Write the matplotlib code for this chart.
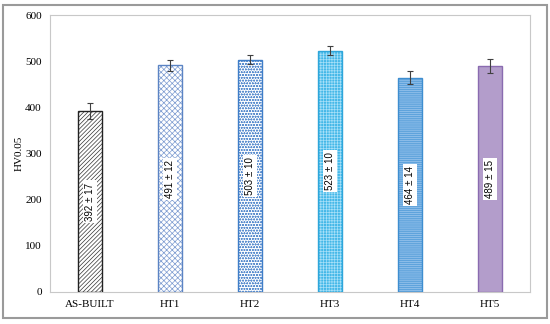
import matplotlib.pyplot as plt
from matplotlib.patches import Rectangle
import numpy as np

# hardness data
samples = ['AS-BUILT', 'HT1', 'HT2', 'HT3', 'HT4', 'HT5']
hv_mean = [392, 491, 503, 523, 464, 489]
hv_std = [17, 12, 10, 10, 14, 15]

face_cols = ['white', 'white', 'white', '#44B8E8', '#5FA3DC', '#B39DCB']
edge_cols = ['#222222', '#5B84C4', '#3F7EC8', '#2FA6DA', '#3E8ED0', '#8A6BB0']
hatches = ['////////', 'xxxxxx', 'oooooo', '++++++', '--------', None]
hatch_cols = ['#333333', '#7C9BD0', '#5E8FCF', '#A8E0F8', '#9FC8EE', None]

plt.rcParams['font.family'] = 'Liberation Serif'
plt.rcParams['hatch.linewidth'] = 0.5

fig = plt.figure(figsize=(5.5, 3.24), dpi=100)
ax = fig.add_axes([0.0909, 0.0988, 0.8727, 0.8549])

x = np.arange(len(samples))
w = 0.31
for i in range(len(samples)):
    ax.bar(x[i], hv_mean[i], w, color=face_cols[i], edgecolor='none', zorder=2)
    if hatches[i]:
        ax.bar(x[i], hv_mean[i], w, color='none', edgecolor=hatch_cols[i],
               hatch=hatches[i], linewidth=0, zorder=3)
    ax.bar(x[i], hv_mean[i], w, color='none', edgecolor=edge_cols[i],
           linewidth=1.0, zorder=4)
    ax.text(x[i], hv_mean[i] / 2, '%d \u00b1 %d' % (hv_mean[i], hv_std[i]),
            rotation=90, ha='center', va='center', fontsize=7,
            family='Liberation Sans', zorder=6,
            bbox=dict(facecolor='white', edgecolor='none', pad=1.5))

ax.errorbar(x, hv_mean, yerr=hv_std, fmt='none', ecolor='#404040',
            elinewidth=0.8, capsize=2.5, capthick=0.8, zorder=5)

ax.set_xlim(-0.5, 5.5)
ax.set_ylim(0, 600)
ax.set_yticks(range(0, 601, 100))
ax.set_xticks(x)
ax.set_xticklabels(samples)
ax.tick_params(length=0, labelsize=8, pad=6)
ax.set_ylabel('HV0.05', fontsize=8, labelpad=1)
for s in ax.spines.values():
    s.set_color('#C8C8C8')
    s.set_linewidth(0.8)

# outer frame
fig.patches.append(Rectangle((0.006, 0.017), 0.988, 0.968, transform=fig.transFigure,
                             fill=False, edgecolor='#9A9A9A', linewidth=1.5))

plt.savefig('out.png', dpi=100)
